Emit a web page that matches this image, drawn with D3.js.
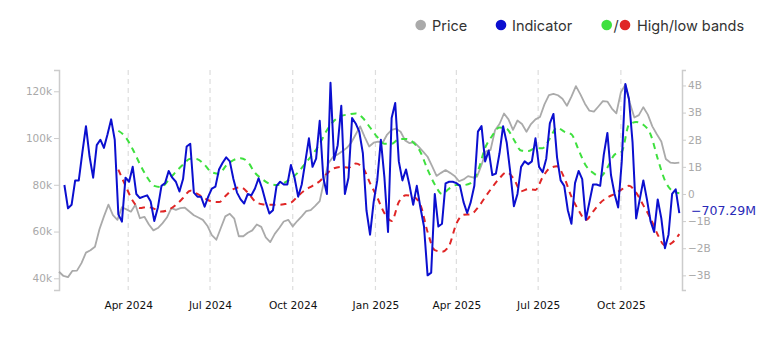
<!DOCTYPE html>
<html>
<head>
<meta charset="utf-8">
<script src="https://cdn.jsdelivr.net/npm/d3@7"></script>
<style>
  body { margin: 0; background: #fff; }
  svg { display: block; }
</style>
</head>
<body>
<div id="chart"></div>
<script>
// Price, 5-day samples from 2024-01-15 (thousands USD)
const priceStart = Date.UTC(2024, 0, 15);
const priceStepDays = 5;
const priceK = [
  42.8, 41, 40.5, 43.2, 43.3, 46.5, 51, 52, 53.5, 61,
  66.5, 71.5, 67, 65, 70.4, 69.5, 68.5, 71.5, 65.7, 66.3,
  63, 60.5, 61.5, 63.5, 66, 70, 69.3, 70, 70.2, 68.6,
  67, 66, 65, 62.5, 58.5, 56.5, 61.5, 66.5, 67.6, 65.5,
  58, 58, 59.5, 60.5, 63, 62, 57.5, 55.5, 59, 61.5,
  64.3, 65, 62.2, 64.5, 66.5, 68.7, 69.2, 71, 73, 82,
  89.5, 92, 93, 94.3, 95.7, 98, 101.5, 105, 100.5, 96.4,
  98, 98.5, 98, 101.5, 103.5, 104, 102.7, 99, 97.8, 98.2,
  96.3, 94.2, 92, 88, 83.8, 85.1, 86.3, 85.1, 83.8, 81.5,
  82.3, 83.7, 83.2, 83.5, 88.5, 94.3, 94.9, 103.3, 106, 110.5,
  108, 103.5, 107.5, 106, 102.7, 106, 108, 109, 114.4, 118.4,
  118.9, 118.3, 116.8, 113.8, 117.7, 122.2, 118.7, 114.7, 111.7, 111.3,
  113.5, 115.8, 115.6, 112.6, 110.6, 119.6, 122.8, 115, 108.8, 109.8,
  113.2, 110, 105, 101.6, 98.5, 91, 89.5, 89.3, 89.5
];

// Indicator, 4-day samples from 2024-01-21 (billions)
const indStart = Date.UTC(2024, 0, 21);
const indStepDays = 4;
const indicatorB = [
  0.33, -0.53, -0.4, 0.5, 0.5, 1.53, 2.5, 1.38, 0.6, 1.8,
  2.0, 1.7, 2.2, 2.75, 2.0, -0.75, -1.02, 0.6, 0.45, 1.0,
  0.0, -0.15, -0.1, -0.05, -0.28, -1.0, -0.5, 0.3, 0.4, 0.85,
  0.6, 0.45, 0.09, 0.55, 1.75, 1.85, 0.05, -0.1, -0.1, -0.47,
  -0.1, 0.2, 0.27, 0.9, 1.15, 1.35, 1.2, 0.55, 0.05, -0.2,
  -0.35, 0.0, -0.05, 0.2, 0.58, 0.2, -0.3, -0.72, -0.6, 0.3,
  0.45, 0.35, 0.35, 1.07, 0.6, -0.1, 0.35, 1.19, 2.05, 1.0,
  1.3, 2.7, 0.6, 0.0, 4.1, 1.25, 1.8, 3.25, 0.0, 0.6,
  2.8, 2.6, 2.3, 1.5, -0.6, -1.5, -0.3, 0.5, 2.0, 0.6,
  -1.4, 2.8, 3.35, 1.2, 0.5, 0.9, 0.3, -0.4, 0.3, -0.5,
  -1.2, -3.0, -2.9, 0.0, -1.2, -1.1, 0.39, 0.45, 0.45, 0.4,
  0.3, -0.3, -0.7, -0.3, 0.3, 2.3, 2.5, 1.2, 1.6, 0.7,
  0.75, 1.5, 2.5, 1.9, 0.8, -0.45, 0.0, 1.0, 1.2, 1.1,
  1.2, 2.05, 1.0, 0.8, 1.3, 2.6, 2.95, 1.35, 0.5, 0.3,
  -0.6, -1.1, 0.4, 0.85, 0.55, -0.95, -0.3, 0.35, 0.35, 0.3,
  1.45, 2.25, 0.7, 0.0, -0.5, 1.2, 4.05, 3.5, 1.9, -0.9,
  -0.2, 0.5, -0.2, -1.0, -1.4, -0.2, -0.9, -2.0, -1.5, 0.0,
  0.17, -0.70729
];

// High / low bands, 8-day samples from 2024-03-21 (billions)
const bandStart = Date.UTC(2024, 2, 21);
const bandStepDays = 8;
const highBandB = [
  2.33, 2.1, 1.65, 1.1, 0.62, 0.3, 0.25, 0.52, 0.82, 1.08,
  1.3, 1.28, 1.07, 0.8, 0.75, 1.05, 1.25, 1.32, 1.18, 0.78,
  0.55, 0.38, 0.33, 0.4, 0.57, 0.8, 1.13, 1.45, 1.85, 2.35,
  2.7, 2.88, 2.93, 2.97, 2.8, 2.45, 2.1, 1.85, 1.85, 2.02,
  2.03, 1.9, 1.55, 0.9, 0.35, 0.0, 0.2, 0.33, 0.33, 0.4,
  0.85, 1.7, 2.15, 2.45, 2.4, 2.0, 1.6, 1.58, 1.69, 1.69,
  2.05, 2.45, 2.3, 2.2, 1.62, 1.05, 0.78, 0.64, 0.97, 1.45,
  1.56, 2.55, 2.65, 2.55, 2.2, 1.3, 0.5, 0.12, 0.03
];
const lowBandB = [
  0.9, 0.3, -0.25, -0.52, -0.48, -0.55, -0.65, -0.58, -0.4, -0.15,
  0.12, 0.0, -0.16, -0.28, -0.3, -0.05, 0.18, 0.25, 0.05, -0.27,
  -0.38, -0.4, -0.4, -0.38, -0.32, -0.07, 0.15, 0.3, 0.47, 0.75,
  0.95, 1.0, 0.97, 1.12, 0.97, 0.4, -0.13, -0.71, -1.0, -0.3,
  -0.05, -0.1, -0.4, -1.4, -2.07, -2.13, -1.9, -1.1, -0.77, -0.75,
  -0.5, -0.12, 0.25, 0.58, 0.8, 0.55, 0.1, 0.18, 0.15, 0.62,
  0.95, 1.02, 0.6, -0.1, -0.6, -0.96, -0.65, -0.33, -0.13, 0.0,
  0.17, 0.3, 0.05, -0.42, -0.9, -1.5, -1.9, -1.8, -1.48
];

// Axis ticks
const priceTicks = [40000, 60000, 80000, 100000, 120000];
const indTicks = [-3e9, -2e9, -1e9, 0, 1e9, 2e9, 3e9, 4e9];

const colors = {
  price: "#aaaaaa",
  indicator: "#0b0fcf",
  high: "#3ee03e",
  low: "#e02626",
  axis: "#cccccc",
  tickText: "#a9a9a9",
  dateText: "#111111",
  grid: "#dddddd",
  legendText: "#333333"
};

const width = 774, height = 346;
const plotLeft = 59, plotRight = 682, plotTop = 70, plotBottom = 290;

const DAY = 86400000;
function series(start, step, values, mult) {
  return values.map((v, i) => ({ date: new Date(start + i * step * DAY), value: v * mult }));
}

const priceData = series(priceStart, priceStepDays, priceK, 1000);
const indData = series(indStart, indStepDays, indicatorB, 1e9);
const highData = series(bandStart, bandStepDays, highBandB, 1e9);
const lowData = series(bandStart, bandStepDays, lowBandB, 1e9);

const svg = d3.select("#chart").append("svg")
  .attr("width", width)
  .attr("height", height)
  .style("background", "#fff");

const x = d3.scaleUtc()
  .domain([new Date(Date.UTC(2024, 0, 15)), new Date(Date.UTC(2025, 11, 8))])
  .range([plotLeft, plotRight]);

const yPrice = d3.scaleLinear().domain([35000, 129100]).range([plotBottom, plotTop]);
const yInd = d3.scaleLinear().domain([-3.54e9, 4.57e9]).range([plotBottom, plotTop]);

// Quarterly dashed grid lines
const xTicks = x.ticks(d3.utcMonth.every(3));
svg.append("g")
  .selectAll("line")
  .data(xTicks)
  .join("line")
  .attr("x1", d => x(d))
  .attr("x2", d => x(d))
  .attr("y1", plotTop)
  .attr("y2", plotBottom)
  .attr("stroke", colors.grid)
  .attr("stroke-width", 1.2)
  .attr("stroke-dasharray", "5,4");

// Date labels
const xAxis = svg.append("g")
  .attr("transform", `translate(0,${plotBottom})`)
  .call(d3.axisBottom(x).tickValues(xTicks).tickFormat(d3.utcFormat("%b %Y")).tickSize(0).tickPadding(11));
xAxis.select(".domain").remove();
xAxis.selectAll("text")
  .attr("fill", colors.dateText)
  .style("font-family", "'DejaVu Sans', Verdana, sans-serif")
  .style("font-size", "10.6px");

// Left (price) axis
const leftAxis = svg.append("g")
  .attr("transform", `translate(${plotLeft},0)`)
  .call(d3.axisLeft(yPrice).tickValues(priceTicks).tickFormat(d => d / 1000 + "k").tickSize(5).tickPadding(2));
leftAxis.select(".domain").attr("stroke", colors.axis).attr("stroke-width", 1.5);
leftAxis.selectAll(".tick line").attr("stroke", colors.axis);
leftAxis.selectAll("text")
  .attr("fill", colors.tickText)
  .style("font-family", "'DejaVu Sans', Verdana, sans-serif")
  .style("font-size", "10.5px");

// Right (indicator) axis
const fmtB = d => d === 0 ? "0" : (d < 0 ? "\u2212" : "") + Math.abs(d / 1e9) + "B";
const rightAxis = svg.append("g")
  .attr("transform", `translate(${plotRight},0)`)
  .call(d3.axisRight(yInd).tickValues(indTicks).tickFormat(fmtB).tickSize(4).tickPadding(2));
rightAxis.select(".domain").attr("stroke", colors.axis).attr("stroke-width", 1.5);
rightAxis.selectAll(".tick line").attr("stroke", colors.axis);
rightAxis.selectAll("text")
  .attr("fill", colors.tickText)
  .style("font-family", "'DejaVu Sans', Verdana, sans-serif")
  .style("font-size", "10.5px");

// Lines
const priceLine = d3.line().x(d => x(d.date)).y(d => yPrice(d.value));
const indLine = d3.line().x(d => x(d.date)).y(d => yInd(d.value));
const bandLine = d3.line().x(d => x(d.date)).y(d => yInd(d.value)).curve(d3.curveMonotoneX);

svg.append("path")
  .datum(priceData)
  .attr("fill", "none")
  .attr("stroke", colors.price)
  .attr("stroke-width", 1.8)
  .attr("stroke-linejoin", "round")
  .attr("d", priceLine);

svg.append("path")
  .datum(highData)
  .attr("fill", "none")
  .attr("stroke", colors.high)
  .attr("stroke-width", 2)
  .attr("stroke-dasharray", "6,5")
  .attr("d", bandLine);

svg.append("path")
  .datum(lowData)
  .attr("fill", "none")
  .attr("stroke", colors.low)
  .attr("stroke-width", 2)
  .attr("stroke-dasharray", "6,5")
  .attr("d", bandLine);

svg.append("path")
  .datum(indData)
  .attr("fill", "none")
  .attr("stroke", colors.indicator)
  .attr("stroke-width", 2)
  .attr("stroke-linejoin", "round")
  .attr("d", indLine);

// Last indicator value label, with a white backing so it sits over the axis text
const last = indData[indData.length - 1];
const lastLabel = svg.append("text")
  .attr("x", plotRight + 9)
  .attr("y", yInd(last.value) - 1.5)
  .attr("dominant-baseline", "middle")
  .attr("fill", "#2a2ab8")
  .attr("paint-order", "stroke")
  .attr("stroke", "#fff")
  .attr("stroke-width", 2)
  .style("font-family", "'DejaVu Sans', Verdana, sans-serif")
  .style("font-size", "12.5px")
  .style("font-weight", "500")
  .text(d3.format(".2f")(last.value / 1e6) + "M");

// Legend
const legend = svg.append("g")
  .style("font-family", "Inter, 'Noto Sans', sans-serif")
  .style("font-size", "14.5px")
  .attr("fill", colors.legendText);
const ly = 25;
legend.append("circle").attr("cx", 420.7).attr("cy", ly).attr("r", 5.3).attr("fill", colors.price);
legend.append("text").attr("x", 432).attr("y", ly).attr("dominant-baseline", "central").text("Price");
legend.append("circle").attr("cx", 501).attr("cy", ly).attr("r", 5.3).attr("fill", colors.indicator);
legend.append("text").attr("x", 512).attr("y", ly).attr("dominant-baseline", "central").text("Indicator");
legend.append("circle").attr("cx", 606.7).attr("cy", ly).attr("r", 5.3).attr("fill", colors.high);
legend.append("text").attr("x", 613.5).attr("y", ly).attr("dominant-baseline", "central").text("/");
legend.append("circle").attr("cx", 625).attr("cy", ly).attr("r", 5.3).attr("fill", colors.low);
legend.append("text").attr("x", 637).attr("y", ly).attr("dominant-baseline", "central").text("High/low bands");
</script>
</body>
</html>
